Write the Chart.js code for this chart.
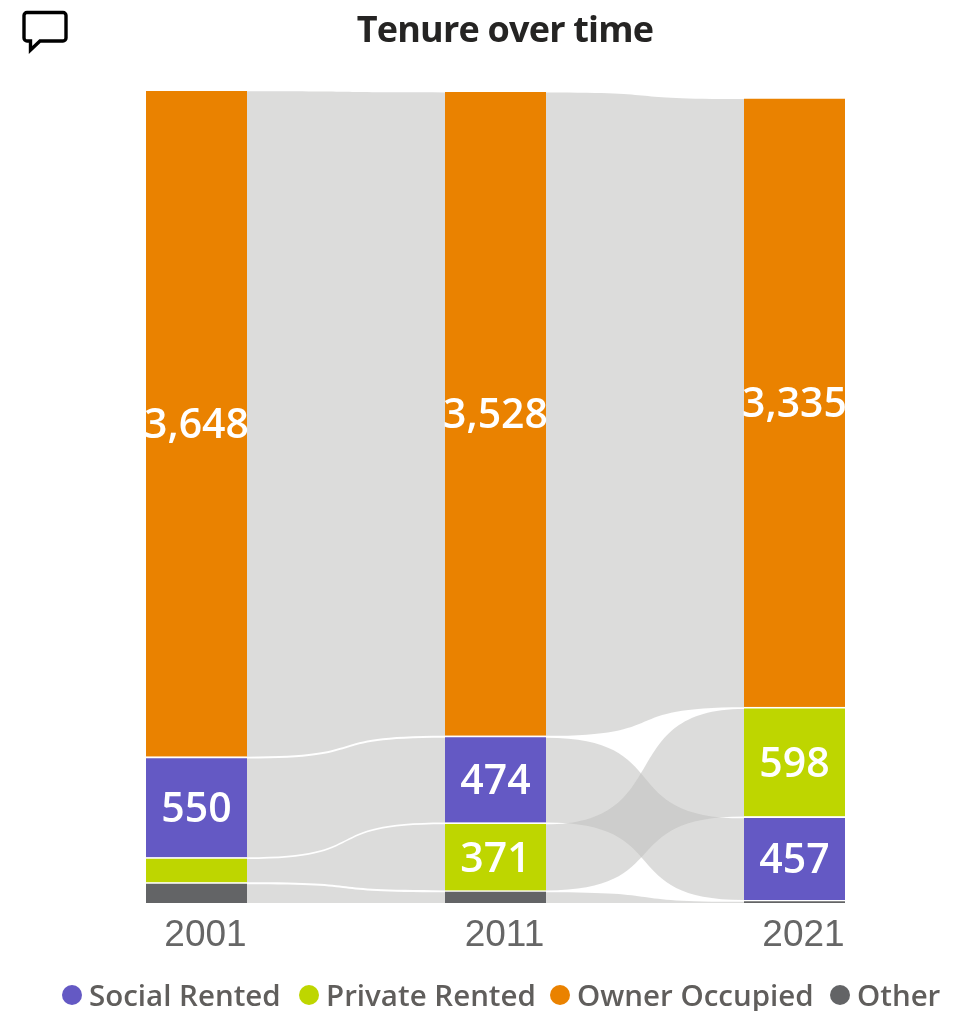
<!DOCTYPE html>
<html>
<head>
<meta charset="utf-8">
<title>Tenure over time</title>
<script src="https://cdn.jsdelivr.net/npm/chart.js@4"></script>
<style>
  body { margin: 0; background: #fff; }
  #wrap { position: relative; width: 978px; height: 1011px; overflow: hidden; font-family: "Open Sans", sans-serif; }
  #icon { position: absolute; left: 22px; top: 9px; }
  #title { position: absolute; left: 0; top: 4px; width: 1010px; text-align: center; font-size: 36px; font-weight: 700; letter-spacing: -0.8px; color: #252423; }
  #legend { position: absolute; left: 0; top: 975px; white-space: nowrap; font-size: 29.500px; font-weight: 600; color: #605e5c; line-height: 40px; }
  #legend span.item { position: absolute; top: 0; display: flex; align-items: center; }
  #legend i { width: 20px; height: 20px; border-radius: 50%; margin-right: 7px; }
</style>
</head>
<body>
<div id="wrap">
  <canvas id="myChart" width="978" height="1011"></canvas>
  <svg id="icon" width="48" height="46" viewBox="0 0 48 46">
    <path d="M5 3.500H41a3 3 0 0 1 3 3V29a3 3 0 0 1-3 3H18L8.500 41V32H5a3 3 0 0 1-3-3V6.500a3 3 0 0 1 3-3Z" fill="none" stroke="#000" stroke-width="3.400"/>
  </svg>
  <div id="title">Tenure over time</div>
  <div id="legend"></div>
</div>
<script>
const years = ['2001', '2011', '2021'];
const socialRented = [550, 474, 457];
const privateRented = [137, 371, 598];
const ownerOccupied = [3648, 3528, 3335];
const other = [113, 69, 16];

const seriesNames = ['Social Rented', 'Private Rented', 'Owner Occupied', 'Other'];
const seriesColors = ['#6459c4', '#bed600', '#ea8200', '#636466'];
const seriesValues = [socialRented, privateRented, ownerOccupied, other];
const legendLefts = [62, 299, 550, 830];

const ribbonColor = 'rgba(194, 193, 191, 0.57)';
const gap = 1.8;
const curve = 0.66;

// ribbon chart: in every year the smallest series sits at the bottom
function stackRanges() {
  const ranges = seriesValues.map(() => []);
  years.forEach((year, i) => {
    const order = seriesValues.map((v, s) => s).sort((a, b) => seriesValues[a][i] - seriesValues[b][i]);
    let base = 0;
    order.forEach(s => {
      ranges[s][i] = [base, base + seriesValues[s][i]];
      base += seriesValues[s][i];
    });
  });
  return ranges;
}
const ranges = stackRanges();

const ribbons = {
  id: 'ribbons',
  beforeDatasetsDraw(chart) {
    const { ctx, scales: { x, y } } = chart;
    ctx.save();
    ctx.fillStyle = ribbonColor;
    ranges.forEach((range, s) => {
      const bars = chart.getDatasetMeta(s).data;
      for (let i = 0; i < years.length - 1; i++) {
        const x0 = x.getPixelForValue(i) + bars[i].width / 2;
        const x1 = x.getPixelForValue(i + 1) - bars[i + 1].width / 2;
        const c0 = x0 + (x1 - x0) * curve;
        const c1 = x1 - (x1 - x0) * curve;
        const top0 = y.getPixelForValue(range[i][1]) + gap;
        const top1 = y.getPixelForValue(range[i + 1][1]) + gap;
        const bot0 = y.getPixelForValue(range[i][0]);
        const bot1 = y.getPixelForValue(range[i + 1][0]);
        ctx.beginPath();
        ctx.moveTo(x0, top0);
        ctx.bezierCurveTo(c0, top0, c1, top1, x1, top1);
        ctx.lineTo(x1, bot1);
        ctx.bezierCurveTo(c1, bot1, c0, bot0, x0, bot0);
        ctx.closePath();
        ctx.fill();
      }
    });
    ctx.restore();
  }
};

const barLabels = {
  id: 'barLabels',
  afterDatasetsDraw(chart) {
    const { ctx } = chart;
    ctx.save();
    ctx.fillStyle = '#fff';
    ctx.font = '600 41px "Open Sans"';
    ctx.textAlign = 'center';
    ctx.textBaseline = 'middle';
    seriesValues.forEach((values, s) => {
      chart.getDatasetMeta(s).data.forEach((bar, i) => {
        if (values[i] < 200) return;
        ctx.fillText(values[i].toLocaleString('en-GB'), bar.x, (bar.y + bar.base) / 2 + 3.5);
      });
    });
    ctx.restore();
  }
};

const myChart = new Chart(document.getElementById('myChart'), {
  type: 'bar',
  data: {
    labels: years,
    datasets: seriesNames.map((name, s) => ({
      label: name,
      data: ranges[s],
      backgroundColor: seriesColors[s],
      borderColor: '#fff',
      borderWidth: { top: gap, right: 0, bottom: 0, left: 0 },
      borderSkipped: false,
      barThickness: 101
    }))
  },
  plugins: [ribbons, barLabels],
  options: {
    responsive: false,
    animation: false,
    layout: { padding: { left: 47, right: 34, top: 80, bottom: 48 } },
    plugins: { legend: { display: false }, tooltip: { enabled: false }, title: { display: false } },
    scales: {
      x: {
        stacked: true,
        grid: { display: false, drawTicks: false },
        border: { display: false },
        afterFit(axis) { axis.height = 60; },
        ticks: {
          padding: 11,
          labelOffset: 9,
          maxRotation: 0,
          color: '#666666',
          font: { family: '"Liberation Sans"', size: 37 }
        }
      },
      y: { display: false, min: 0, max: 4500 }
    }
  }
});

const legend = document.getElementById('legend');
seriesNames.forEach((name, s) => {
  const item = document.createElement('span');
  item.className = 'item';
  item.style.left = legendLefts[s] + 'px';
  const dot = document.createElement('i');
  dot.style.background = seriesColors[s];
  item.appendChild(dot);
  item.appendChild(document.createTextNode(name));
  legend.appendChild(item);
});
</script>
</body>
</html>
